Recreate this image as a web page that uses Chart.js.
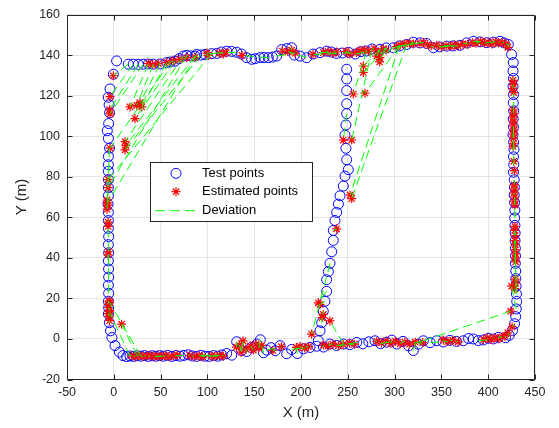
<!DOCTYPE html>
<html>
<head>
<meta charset="utf-8">
<script src="https://cdn.jsdelivr.net/npm/chart.js@4.4.1/dist/chart.umd.min.js"></script>
<style>
  html, body { margin: 0; padding: 0; background: #fff; }
  #wrap { width: 559px; height: 428px; }
</style>
</head>
<body>
<div id="wrap"><canvas id="chart"></canvas></div>
<script>
// test points, one array per side of the route [x, y]
const testTop = [
  [3,137.1],[15.5,135.5],[20.8,135.5],[26.2,135.4],[31.5,135.5],[36.9,135.6],[42.2,135.5],[49.4,135.6],[56.5,136.3],[60.5,136.6], // 0-9
  [65.4,137],[70,138.2],[74.3,139.5],[77.9,139.8],[82,139.6],[86.8,139.5],[88.6,140.3],[93,140],[97.4,140.3],[104.6,140.7], // 10-19
  [110,140.8],[115,141.5],[120.6,141.9],[126,141.8],[131.3,141.4],[136.5,140.5],[142,138.7],[147.3,137.9],[151,138.2],[156.2,138.7], // 20-29
  [160.5,138.8],[165.1,138.7],[169.5,139],[174,139.5],[179.4,142.7],[185,143.2],[190,143.6],[193,140],[199,139.5],[206,138.7], // 30-39
  [213,140.5],[220.3,141.2],[227.4,141.9],[232.5,141.5],[238,140.8],[244,141],[251,141.3],[258,140.5],[264,141.7],[270,142], // 40-49
  [276,143],[284.4,142.8],[291,143.5],[298.6,143.6],[305,144.5],[312.9,145.2],[320,146.3],[327,146],[334.3,145.7],[341.4,143.6], // 50-59
  [348,144],[355.7,144.4],[362.5,144.5],[369.9,144.8],[377,146],[384.2,146.8],[391,146.5],[398.4,146.1],[405.5,146.3],[412.6,146.8], // 60-69
  [417,146],[421.5,145.2] // 70-71
];
const testRight = [
  [425,140.3],[426.8,136.3],[426.5,132.2],[427,128.5],[426.5,124.5],[427,120.5],[426.8,116.5],[427.2,112.5],[426.8,108.5],[427,104.6], // 0-9
  [426.5,100.8],[427.2,97],[427.5,93.5],[427,89.8],[427.3,86],[427,82.2],[427.8,78.5],[428,74.8],[427.8,71],[428.2,67.3], // 10-19
  [428.5,63.5],[428.3,59.7],[428.6,56],[428.8,52.2],[428.7,48.5],[429,44.7],[429.2,41],[429,37.3],[429.4,33.5],[429.5,29.8], // 20-29
  [429.8,26],[430.2,22.2],[430.5,18.5],[430,14.8],[429.4,11],[428.2,7.5],[426,4.2],[422.5,1.8],[418.5,0.6] // 30-38
];
const testBottom = [
  [13.8,-8.7],[17.3,-8.4],[21,-8.6],[25,-8.3],[29,-8.5],[33,-8.2],[37,-8.6],[41,-8.3],[45,-8.5],[49,-8.2], // 0-9
  [53,-8.5],[57.5,-8.1],[62,-8.6],[66.5,-8.2],[71,-8.5],[75,-8.1],[79.5,-7.8],[84,-8.4],[88.5,-8.6],[93,-8.1], // 10-19
  [97.5,-8.5],[102,-8.6],[106.5,-8.2],[111,-8.5],[115.5,-7.9],[120.6,-7.2],[126,-8],[131.3,-1.4],[136.6,-5.7],[142,-6.2], // 20-29
  [147,-4.2],[152.7,-2.5],[156.6,-0.4],[160,-6.8],[163.4,-5.5],[168,-4.3],[172.5,-5.8],[177.6,-3.3],[184.7,-7.3],[190,-5.2], // 30-39
  [196,-7.2],[202.5,-4.9],[209.6,-4.2],[216.8,-3.6],[224,-4],[231,-2.5],[238,-3.2],[245.3,-2.5],[252,-2.8],[259.6,-1.7], // 40-49
  [266,-2.4],[272.5,-1.4],[279,-0.9],[285,-2.3],[291.5,-1.6],[297,-0.6],[302.2,-2.5],[309,-1.2],[315,-3.4],[320,-5.7], // 50-59
  [325.5,-2.6],[330.7,-0.9],[338,-1.8],[345,-0.9],[352,-1.5],[359,-0.7],[366,-1.2],[373.4,-0.9],[379,0.2],[384.1,0], // 60-69
  [389.5,-0.8],[394.8,-0.5],[400,0.3],[405.5,0],[411,0.8] // 70-74
];
const testLeft = [
  [-0.5,130.5],[-4,123.3],[-5.9,119.2],[-5,115.5],[-4.5,111.5],[-5.5,106.2],[-7,102.7],[-5.8,98.9],[-4.5,94.1],[-5.8,90], // 0-9
  [-5.8,85.9],[-5.8,82.7],[-5.8,78.6],[-5.8,74.6],[-5.8,70.6],[-6.2,66.5],[-5.8,62.4],[-5.8,58.4],[-5.8,54.5],[-5.5,50.5], // 10-19
  [-5.8,46.5],[-5.5,42.5],[-5.8,38.5],[-5.6,34.5],[-5.5,30.5],[-5.8,26.5],[-5.5,22.5],[-5.8,18.6],[-5.5,15.4],[-5.8,12.3], // 20-29
  [-4.8,8],[-3.5,4],[-2,0.7],[1.3,-3.3],[6,-6.5],[9.8,-8.2] // 30-35
];
const testMid = [
  [218.5,-0.9],[220.3,4],[222.1,8],[223.8,13.7],[225.6,18.6],[227.4,23.5],[227.4,29.2],[229.2,33.2],[231,37.3],[232.8,43], // 0-9
  [234.5,48.6],[234.5,53.5],[236.3,58.4],[238.1,62.4],[239.9,66.5],[241.7,70.6],[245.2,75.4],[247,80.3],[250.5,83.5],[248.8,88.4], // 10-19
  [248,94],[247,100.5],[248,105.5],[248.8,111.1],[248.8,116],[248.8,122.5],[248.8,128.2],[248.8,133] // 20-27
];

// estimated points [x, y, index of the test point it belongs to]
const estTop = [
  [-0.5,129.8,1],[-4,119.5,2],[-4.5,113,3],[-4,111,4],[17.3,114.4,5],[24.5,115.2,6],[28,116.5,7],[29.8,114.4,8],
  [22.6,108.7,10],[12,97.3,12],[13,95.5,15],[12,93.2,17],[-4,94.1,9],[-6,78.6,19],[-6,74.6,13],[-7,67,16],
  [37,135.8,5],[41.5,135.3,6],[47.6,135.8,7],[56.5,136.4,8],[63.6,137.1,9],[70.7,137.9,11],[77.9,138.7,13],[86.8,138.9,15],
  [101,139.8,18],[99.5,141,19],[113,141,24],[117,140.5,21],[120,141.3,19],[137,139.8,31],[180,142,34],[186,141.7,39],
  [190,142.5,36],[194,141,33],[213,140.3,44],[224,141.2,41],[229,141.8,42],[234,140.9,43],[238,141.5,41],[248,141.8,46],
  [252,140.5,46],[259,141.2,45],[263,142.2,48],[268,142.6,49],[272,141.8,47],[278,143.2,50],[283,141.5,51],[288,143,52],
  [291,142.5,52],[281,139.5,51],[284,136.6,52],[302,144.2,57],[306,145,54],[311,145.6,55],[316,145.8,56],[320,145.5,53],
  [327,145.6,57],[331,146.2,57],[335,145.2,58],[339,144.5,59],[345,144.8,62],[350,144,60],[355,144.6,61],[360,144.2,62],
  [364,145.1,62],[368,144.5,60],[373,145.5,64],[378,145.2,64],[383,146.2,65],[387,145.8,66],[392,146.7,65],[396,145.8,67],
  [400,146.3,67],[404,145.5,68],[408,146.6,67],[411,145.9,69],[415,146.2,70],[419,145.5,71],[421,143.8,71],
  [266.6,134.6,51],[266.6,131.4,52],[284.4,138.7,53],[255.9,120.8,49],[268.4,121.2,54],[254.2,98.1,50],
  [254.2,69.2,55],[252.5,71,54]
];
const estRight = [
  [426.5,127.5,3],[427,125.5,4],[426.2,123.5,4],[427.2,121.5,7],[426.8,113,7],[427.3,111,7],[426.5,109,8],[427,107,14],
  [426.8,105,9],[427.5,103,9],[426.7,101,12],[427.2,99,10],[427,96.5,11],[426.5,95,12],[427.3,87.6,14],[428,83,15],
  [427.8,76,16],[428.2,74,17],[427.5,72,18],[428.3,70,21],[428,68,19],[428.5,66,19],[428.6,55.5,22],[428.2,53.5,27],
  [428.8,51,23],[428.5,48.5,30],[429,46.5,24],[428.7,44,25],[429.2,42,26],[428.8,40,31],[429.3,38,27],[428.8,29.5,29],
  [429.5,27.5,30],[425,26,33],[428.5,24.8,31],[421,3,37],[418,1.5,38],[425.5,6,35]
];
const estBottom = [
  [19,-8.2,1],[23,-8.8,2],[27,-8,3],[31,-8.7,4],[35,-8.4,5],[39,-8.1,6],[43,-8.8,10],[47,-8.3,8],[51,-8.6,9],[55,-8.2,10],
  [59,-8.8,11],[64,-8.4,15],[68,-8,13],[81,-8.2,16],[86,-8.7,17],[91,-8.3,23],[95,-8.8,20],[104,-8.4,21],[108,-8.7,22],
  [113,-8.1,19],[117,-8.5,24],[131,-4,27],[134,-3,28],[138,-1,28],[141,-5,29],[136,-6.5,28],[146,-3.5,30],[149,-5.5,30],
  [152,-2.5,31],[155,-4.5,32],[158,-3.2,33],[170,-5.7,36],[179,-3.8,34],[195,-4.2,40],[199,-3.6,41],[204,-4.5,41],
  [208,-3.8,39],[224,-3,44],[229,-3.5,45],[234,-2.6,45],[240,-3.3,49],[245,-2.7,47],[252,-2.1,48],[257,-2.6,46],
  [281,-1.2,52],[286,-2,53],[291,-1,54],[296,-2.2,55],[301,-1.1,53],[306,-2.4,57],[311,-1.5,57],[316,-2.6,61],
  [322,-1.6,59],[330,-1.8,60],[352,-0.5,64],[357,-1.3,62],[362,-0.6,65],[368,-1.4,66],[395,-0.4,71],[399,0.5,72],
  [403,-0.3,70],[407,0.6,73],[411,0.1,74],[415,1,74],
  [424,13.7,61],[-4.5,18,4],[-4.8,13.5,1],[8.4,7.3,3],[230.9,8.9,47]
];
const estLeft = [
  [-7,68.5,15],[-6.5,66,10],[-7.2,64,8],[-6,57.6,17],[-6,55.5,26],[-5.8,43,24],[-6.2,41.5,22],
  [-5,18.8,27],[-6,17,27],[-5.5,15.5,28],[-4.5,14,28],[-6,12.5,29],[-5,11,29],[-4.5,9,30]
];
const estMid = [
  [211.4,2.4,8],[220.3,17,4],[223.8,12.1,3],[222.5,10.5,2],[218.5,17.8,5],[238.1,54.3,11],[245.2,98.1,23]
];

const xTicks = { min: -50, max: 450, step: 50 };
const yTicks = { min: -20, max: 160, step: 20 };
const seriesNames = ["Test points", "Estimated points", "Deviation"];

const groups = [
  [estTop, testTop],
  [estRight, testRight],
  [estBottom, testBottom],
  [estLeft, testLeft],
  [estMid, testMid],
];

const testPts = [testTop, testRight, testBottom, testLeft, testMid]
  .flat()
  .map(([x, y]) => ({ x, y }));
const estPts = [];
const devPts = [];
groups.forEach(([est, test]) => {
  est.forEach(([ex, ey, i]) => {
    estPts.push({ x: ex, y: ey });
    devPts.push({ x: test[i][0], y: test[i][1] }, { x: ex, y: ey }, { x: ex, y: null });
  });
});

const FONT = "'Liberation Sans', Arial, Helvetica, sans-serif";
const INK = "#262626";

// MATLAB style box, inward ticks and legend
const boxPlugin = {
  id: "box",
  afterDatasetsDraw(chart) {
    const { ctx, chartArea: a, scales } = chart;
    const l = Math.round(a.left) + 0.5, r = Math.round(a.right) - 0.5;
    const t = Math.round(a.top) + 0.5, b = Math.round(a.bottom) - 0.5;
    ctx.save();
    ctx.strokeStyle = INK;
    ctx.lineWidth = 1;
    ctx.beginPath();
    ctx.rect(l, t, r - l, b - t);
    scales.x.ticks.forEach((tk) => {
      const px = Math.round(scales.x.getPixelForValue(tk.value)) + 0.5;
      ctx.moveTo(px, b); ctx.lineTo(px, b - 5);
      ctx.moveTo(px, t); ctx.lineTo(px, t + 5);
    });
    scales.y.ticks.forEach((tk) => {
      const py = Math.round(scales.y.getPixelForValue(tk.value)) + 0.5;
      ctx.moveTo(l, py); ctx.lineTo(l + 5, py);
      ctx.moveTo(r, py); ctx.lineTo(r - 5, py);
    });
    ctx.stroke();
    ctx.restore();
  },
  afterDraw(chart) {
    const ctx = chart.ctx;
    const bx = 150.5, by = 162.5, bw = 162, bh = 59;
    const rows = [173.3, 191.7, 210.7];
    const mx = 176, tx = 202;
    ctx.save();
    ctx.fillStyle = "#fff";
    ctx.fillRect(bx, by, bw, bh);
    ctx.strokeStyle = INK;
    ctx.lineWidth = 1;
    ctx.strokeRect(bx, by, bw, bh);

    // circle
    ctx.strokeStyle = "#0000ff";
    ctx.lineWidth = 1;
    ctx.beginPath();
    ctx.arc(mx, rows[0], 5, 0, Math.PI * 2);
    ctx.stroke();

    // star
    ctx.strokeStyle = "#ff0000";
    ctx.lineWidth = 1.2;
    ctx.beginPath();
    const s = 4.5, d = 4.5 * Math.SQRT1_2;
    ctx.moveTo(mx - s, rows[1]); ctx.lineTo(mx + s, rows[1]);
    ctx.moveTo(mx, rows[1] - s); ctx.lineTo(mx, rows[1] + s);
    ctx.moveTo(mx - d, rows[1] - d); ctx.lineTo(mx + d, rows[1] + d);
    ctx.moveTo(mx - d, rows[1] + d); ctx.lineTo(mx + d, rows[1] - d);
    ctx.stroke();

    // dashed
    ctx.strokeStyle = "#00ff00";
    ctx.lineWidth = 1;
    ctx.setLineDash([10, 5]);
    ctx.beginPath();
    ctx.moveTo(155, rows[2]); ctx.lineTo(196, rows[2]);
    ctx.stroke();
    ctx.setLineDash([]);

    ctx.fillStyle = "#000";
    ctx.font = "13px " + FONT;
    ctx.textBaseline = "middle";
    seriesNames.forEach((name, i) => ctx.fillText(name, tx, rows[i]));
    ctx.restore();
  },
};

new Chart(document.getElementById("chart").getContext("2d"), {
  type: "scatter",
  data: {
    datasets: [
      {
        label: seriesNames[2],
        data: devPts,
        showLine: true,
        spanGaps: false,
        borderColor: "#00ff00",
        borderWidth: 1,
        borderDash: [9, 5],
        pointRadius: 0,
        fill: false,
      },
      {
        label: seriesNames[1],
        data: estPts,
        pointStyle: "star",
        pointRadius: 4.5,
        pointBorderColor: "#ff0000",
        pointBackgroundColor: "#ff0000",
        pointBorderWidth: 1.2,
      },
      {
        label: seriesNames[0],
        data: testPts,
        pointStyle: "circle",
        pointRadius: 5,
        pointBorderColor: "#0000ff",
        pointBackgroundColor: "rgba(0,0,0,0)",
        pointBorderWidth: 1,
      },
    ],
  },
  options: {
    responsive: true,
    maintainAspectRatio: false,
    animation: false,
    devicePixelRatio: 1,
    events: [],
    layout: { padding: { top: 9.5, right: 24, bottom: 0, left: 0 } },
    plugins: {
      legend: { display: false },
      tooltip: { enabled: false },
    },
    scales: {
      x: {
        type: "linear",
        min: xTicks.min,
        max: xTicks.max,
        afterFit: (s) => { s.height = 48.5; },
        ticks: { stepSize: xTicks.step, padding: 6, color: INK, font: { family: FONT, size: 12.5 } },
        grid: { color: "#e5e5e5", drawTicks: false },
        border: { display: false },
        title: { display: true, text: "X (m)", color: INK, font: { family: FONT, size: 15 }, padding: { top: 0, bottom: 6 } },
      },
      y: {
        type: "linear",
        min: yTicks.min,
        max: yTicks.max,
        afterFit: (s) => { s.width = 67; },
        ticks: { stepSize: yTicks.step, padding: 7, color: INK, font: { family: FONT, size: 12.5 } },
        grid: { color: "#e5e5e5", drawTicks: false },
        border: { display: false },
        title: { display: true, text: "Y (m)", color: INK, font: { family: FONT, size: 15 }, padding: { top: 13, bottom: 0 } },
      },
    },
  },
  plugins: [boxPlugin],
});
</script>
</body>
</html>
